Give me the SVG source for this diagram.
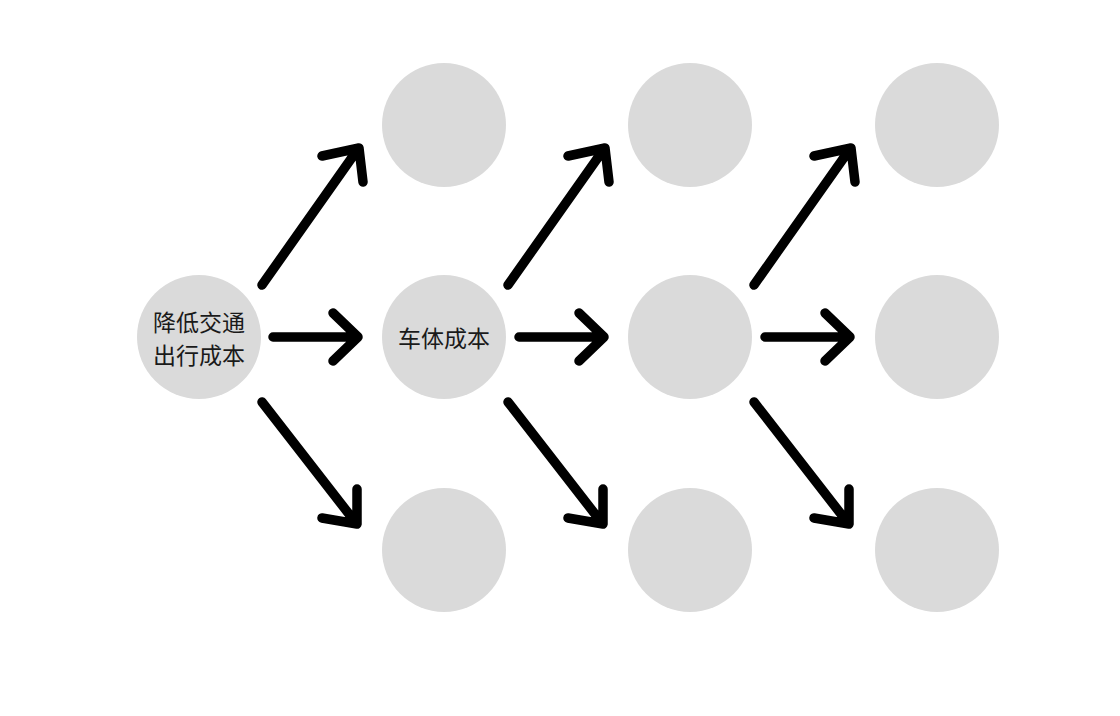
<svg xmlns="http://www.w3.org/2000/svg" width="1120" height="716" viewBox="0 0 1120 716">
<style>
.n{fill:#dadada}
.t{font-family:"Noto Sans CJK SC","Noto Sans",sans-serif;font-size:23px;fill:#1a1a1a;text-anchor:middle;dominant-baseline:central}
.a{fill:none;stroke:#000;stroke-width:9.5;stroke-linecap:round;stroke-linejoin:round}
</style>
<defs>
<g id="fan">
<path class="a" d="M262,285 L358,149 M322,156 L359,148 L363,182"/>
<path class="a" d="M273,337 L358,337 M333,313 L358,337 L333,361"/>
<path class="a" d="M262,402 L356,523 M322,518 L357,524 L357,489"/>
</g>
</defs>
<rect width="1120" height="716" fill="#fff"/>
<g id="connectors">
<use href="#fan"/>
<use href="#fan" x="246"/>
<use href="#fan" x="492"/>
</g>
<g id="n0"><circle class="n" cx="199" cy="337" r="62"/><text class="t" x="199" y="321">降低交通</text><text class="t" x="199" y="354">出行成本</text></g>
<g id="n1"><circle class="n" cx="444" cy="125" r="62"/></g>
<g id="n2"><circle class="n" cx="444" cy="337" r="62"/><text class="t" x="444" y="337">车体成本</text></g>
<g id="n3"><circle class="n" cx="444" cy="550" r="62"/></g>
<g id="n4"><circle class="n" cx="690" cy="125" r="62"/></g>
<g id="n5"><circle class="n" cx="690" cy="337" r="62"/></g>
<g id="n6"><circle class="n" cx="690" cy="550" r="62"/></g>
<g id="n7"><circle class="n" cx="937" cy="125" r="62"/></g>
<g id="n8"><circle class="n" cx="937" cy="337" r="62"/></g>
<g id="n9"><circle class="n" cx="937" cy="550" r="62"/></g>
</svg>
